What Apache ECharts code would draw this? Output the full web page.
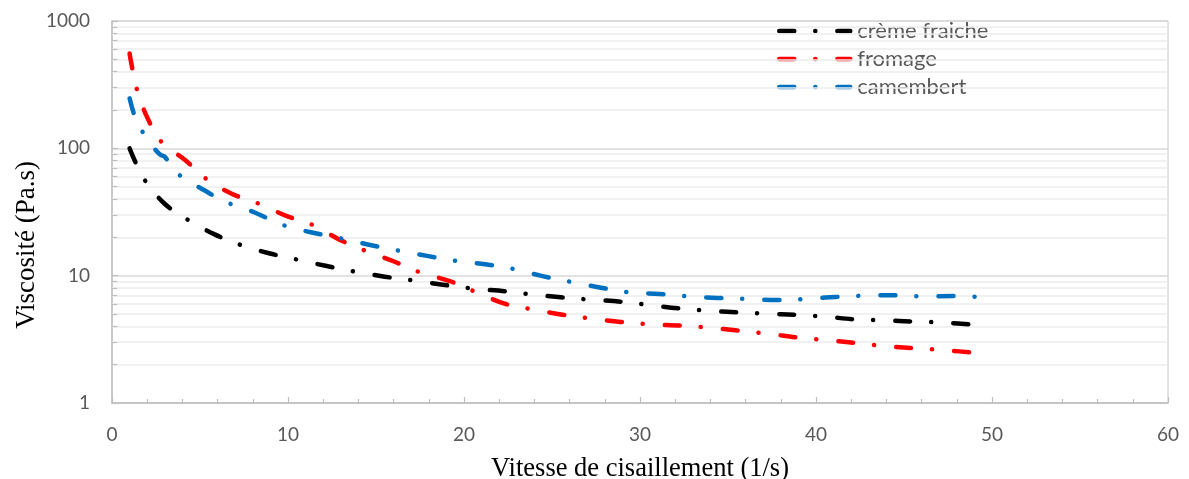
<!DOCTYPE html>
<html>
<head>
<meta charset="utf-8">
<script src="https://cdn.jsdelivr.net/npm/echarts@6/dist/echarts.min.js"></script>
<style>
  html, body { margin: 0; padding: 0; background: #ffffff; }
  #chart { width: 1189px; height: 479px; }
</style>
</head>
<body>
<div id="chart"></div>
<script>
// Shear rate (1/s) and viscosity (Pa.s) for each product
const cremeX = [1, 1.36, 1.9, 2.99, 4.34, 5.83, 7.37, 8.92, 10.6, 12.2, 13.9, 15.5, 17.2, 18.8, 20.5, 22.4, 23.8, 25.5, 27.2, 28.9, 30.5, 32.2, 33.8, 35.5, 37.2, 38.9, 40.5, 42.2, 43.9, 45.55, 47.2, 49.4];
const cremeY = [100, 76.5, 55.3, 36.7, 27.3, 21.1, 17.3, 15.0, 13.3, 11.9, 10.7, 9.82, 9.14, 8.49, 7.91, 7.53, 7.13, 6.76, 6.48, 6.25, 5.89, 5.54, 5.31, 5.15, 5.03, 4.92, 4.77, 4.54, 4.46, 4.36, 4.28, 4.08];

const fromageX = [1, 1.42, 2.0, 2.82, 4.15, 5.4, 6.8, 8.4, 9.9, 11.5, 12.95, 14.5, 16.1, 17.6, 19.2, 20.8, 22.3, 24.0, 25.6, 27.3, 28.9, 30.6, 32.3, 33.9, 35.6, 37.3, 38.95, 40.6, 42.3, 43.95, 45.6, 47.3, 49.4];
const fromageY = [555, 288, 175, 112, 81, 57, 44, 36.5, 29.5, 24.7, 19.1, 15.5, 12.8, 10.5, 9.05, 7.31, 6.03, 5.41, 4.94, 4.6, 4.33, 4.15, 4.05, 3.91, 3.7, 3.49, 3.27, 3.11, 2.96, 2.79, 2.69, 2.6, 2.45];

const camembertX = [1, 1.27, 1.72, 2.4, 2.75, 3.0, 3.73, 5.14, 6.57, 8.14, 9.68, 11.3, 12.9, 14.6, 16.2, 17.9, 19.5, 21.2, 22.8, 24.4, 26.1, 27.7, 29.4, 31.1, 32.7, 34.4, 36.06, 37.7, 39.4, 41.1, 42.8, 44.5, 46.1, 47.8, 49.4];
const camembertY = [247, 183, 136, 100, 89, 85.7, 63.4, 47.7, 37.4, 31.2, 25.1, 21.9, 19.8, 17.5, 15.8, 14.3, 13.1, 12.3, 11.3, 9.96, 8.93, 8.08, 7.4, 7.18, 6.88, 6.69, 6.56, 6.43, 6.56, 6.8, 6.97, 7.03, 6.88, 6.93, 6.8];

const seriesNames = ['crème fraiche', 'fromage', 'camembert'];
const seriesColors = ['#000000', '#ff0000', '#0070c0'];

// Logarithmic axis: decades and the intermediate values 2..9 of each decade
const yDecades = [1, 10, 100];
const yMinorSteps = [2, 3, 4, 5, 6, 7, 8, 9];

const xMin = 0, xMax = 60, xStep = 10;
const yMin = 1, yMax = 1000;

function pairs(xs, ys) {
  return xs.map((x, i) => [x, ys[i]]);
}

const minorValues = [];
yDecades.forEach(d => yMinorSteps.forEach(m => minorValues.push(d * m)));

// dash, gap, dot, gap
const dashDot = [15, 21, 0.1, 22];

function curve(name, color, xs, ys) {
  return {
    name: name,
    type: 'line',
    data: pairs(xs, ys),
    smooth: 0.35,
    symbol: 'none',
    z: 5,
    lineStyle: { color: color, width: 4.5, type: dashDot, cap: 'round', join: 'round' },
    itemStyle: { color: color }
  };
}

const chart = echarts.init(document.getElementById('chart'), null, { renderer: 'canvas' });

const option = {
  animation: false,
  backgroundColor: '#ffffff',
  grid: {
    left: 112, right: 21, top: 21, bottom: 76,
    containLabel: false,
    outerBoundsMode: 'none',
    show: true, borderColor: '#c8c8c8', borderWidth: 1
  },
  legend: {
    data: seriesNames,
    orient: 'vertical',
    left: 777,
    top: 17,
    padding: 0,
    itemWidth: 71,
    itemHeight: 14,
    itemGap: 0,
    itemStyle: { opacity: 0 },
    lineStyle: { width: 4.5 },
    textStyle: { fontFamily: 'Lato', fontSize: 22, color: '#595959', lineHeight: 28, padding: [0, 0, 0, 2] }
  },
  xAxis: {
    type: 'value',
    min: xMin, max: xMax, interval: xStep,
    name: 'Vitesse de cisaillement (1/s)',
    nameLocation: 'middle',
    nameGap: 53,
    nameTextStyle: { fontFamily: 'Liberation Serif', fontSize: 26.5, color: '#000000' },
    axisLine: { lineStyle: { color: '#bfbfbf', width: 1.5 } },
    axisTick: { show: true, inside: true, length: 6, lineStyle: { color: '#bfbfbf', width: 1.2 } },
    minorTick: { show: true, splitNumber: 5, length: 4, lineStyle: { color: '#bfbfbf', width: 1.2 } },
    splitLine: { show: false },
    axisLabel: { fontFamily: 'Lato', fontSize: 19, color: '#595959', margin: 22 }
  },
  yAxis: {
    type: 'log',
    logBase: 10,
    min: yMin, max: yMax,
    axisLine: { show: true, lineStyle: { color: '#bfbfbf', width: 1.5 } },
    axisTick: { show: true, inside: true, length: 6, lineStyle: { color: '#bfbfbf', width: 1.2 } },
    splitLine: { show: true, lineStyle: { color: '#d9d9d9', width: 1.5 } },
    axisLabel: {
      fontFamily: 'Lato', fontSize: 19, color: '#595959', margin: 22,
      formatter: v => String(Math.round(v))
    }
  },
  graphic: [{
    type: 'text',
    left: 13,
    top: 161,
    rotation: Math.PI / 2,
    style: {
      text: 'Viscosité (Pa.s)',
      fontFamily: 'Liberation Serif',
      fontSize: 27,
      fill: '#000000'
    }
  }],
  series: [
    {
      name: 'grid-minor',
      type: 'line',
      data: [],
      z: 1,
      silent: true,
      markLine: {
        silent: true,
        symbol: 'none',
        label: { show: false },
        animation: false,
        lineStyle: { color: '#ececec', width: 1.5, type: 'solid' },
        data: minorValues.map(v => ({ yAxis: v }))
      }
    },
    {
      name: 'tick-minor',
      type: 'line',
      data: [],
      z: 2,
      silent: true,
      markLine: {
        silent: true,
        symbol: 'none',
        label: { show: false },
        animation: false,
        lineStyle: { color: '#bfbfbf', width: 1.2, type: 'solid' },
        data: minorValues.map(v => [{ coord: [0, v] }, { coord: [0.3, v] }])
      }
    },
    curve(seriesNames[0], seriesColors[0], cremeX, cremeY),
    curve(seriesNames[1], seriesColors[1], fromageX, fromageY),
    curve(seriesNames[2], seriesColors[2], camembertX, camembertY)
  ]
};

chart.setOption(option);
</script>
</body>
</html>
